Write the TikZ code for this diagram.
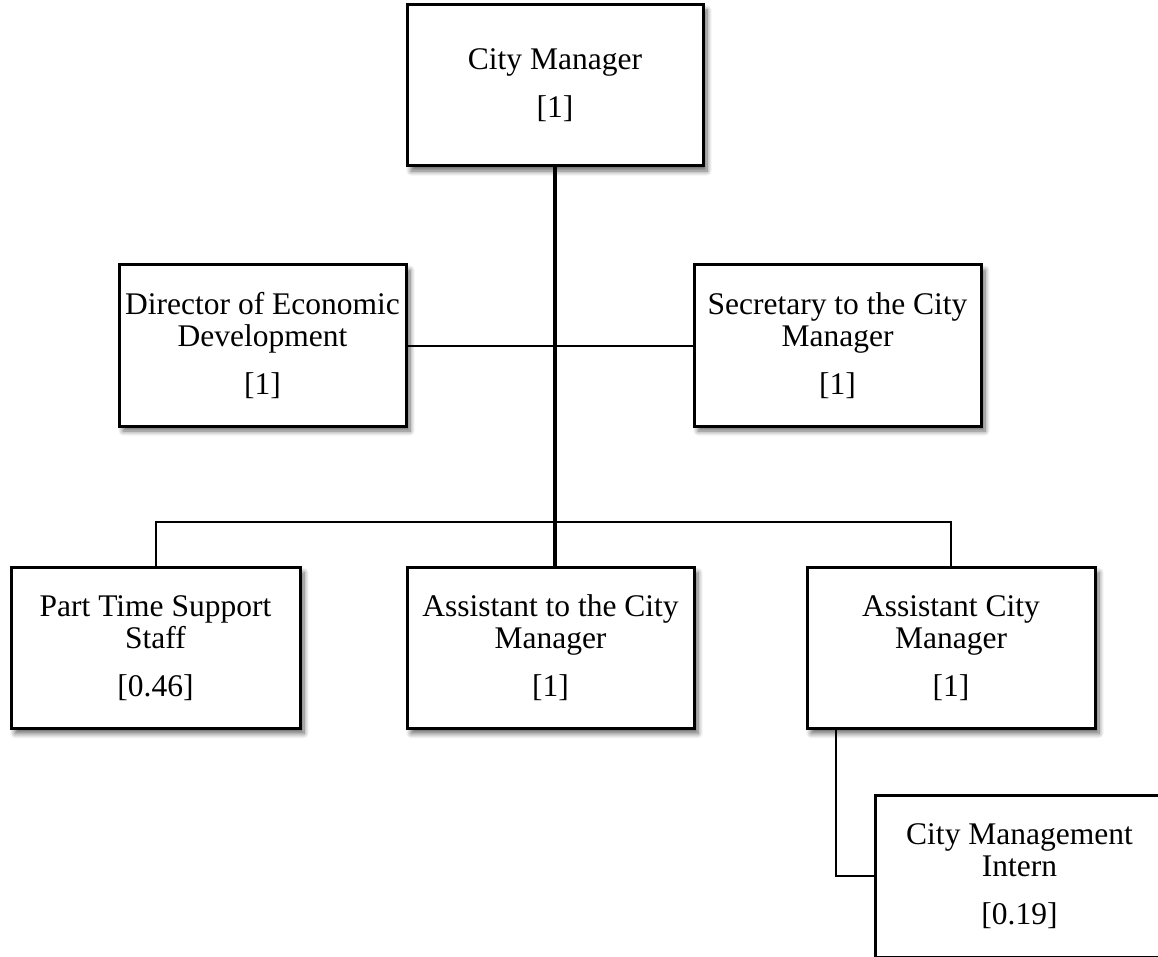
\documentclass[tikz,border=0pt]{standalone}
\usepackage{fontspec}
\setmainfont{Liberation Serif}
\usetikzlibrary{shadows.blur}
\begin{document}
\begin{tikzpicture}[x=1pt,y=-1pt,
  post/.style={draw=black, fill=white, line width=3pt, inner sep=0pt,
    align=center, minimum width=#1, minimum height=161pt,
    font=\fontsize{31.5}{32}\selectfont,
    blur shadow={shadow xshift=4pt, shadow yshift=-5pt, shadow blur radius=5pt,
      shadow blur steps=8, shadow opacity=60}},
  post/.default=288pt,
  link/.style={line width=2pt},
  mainlink/.style={line width=4.5pt}]
\useasboundingbox (0,0) rectangle (1158,957);
\clip (0,0) rectangle (1158,957);

% reference points for the branch lines
\coordinate (bar) at (0,522);
\coordinate (elbow) at (836,876);

% posts
\node[post=296pt] (cm) at (555,85.5) {City Manager\\[16pt][1]};
\node[post=287pt] (dir) at (262.5,345.5) {Director of Economic\\Development\\[16pt][1]};
\node[post=287pt] (sec) at (837.5,345.5) {Secretary to the City\\Manager\\[16pt][1]};
\node[post=289pt] (pt) at (155.5,648) {Part Time Support\\Staff\\[16pt][0.46]};
\node[post=287pt] (atcm) at (550.5,648) {Assistant to the City\\Manager\\[16pt][1]};
\node[post=288pt] (acm) at (951,648) {Assistant City\\Manager\\[16pt][1]};
\node[post=288pt, minimum height=162pt] (intern) at (1019.5,876) {City Management\\Intern\\[16pt][0.19]};

% reporting lines
\draw[mainlink] (cm.south) -- (cm.south |- atcm.north);
\draw[link] (dir.east) -- (sec.west);
\draw[link] (pt.north) -- (pt.north |- bar) -- (acm.north |- bar) -- (acm.north);
\draw[link] (elbow |- acm.south) -- (elbow) -- (intern.west);
\end{tikzpicture}
\end{document}
